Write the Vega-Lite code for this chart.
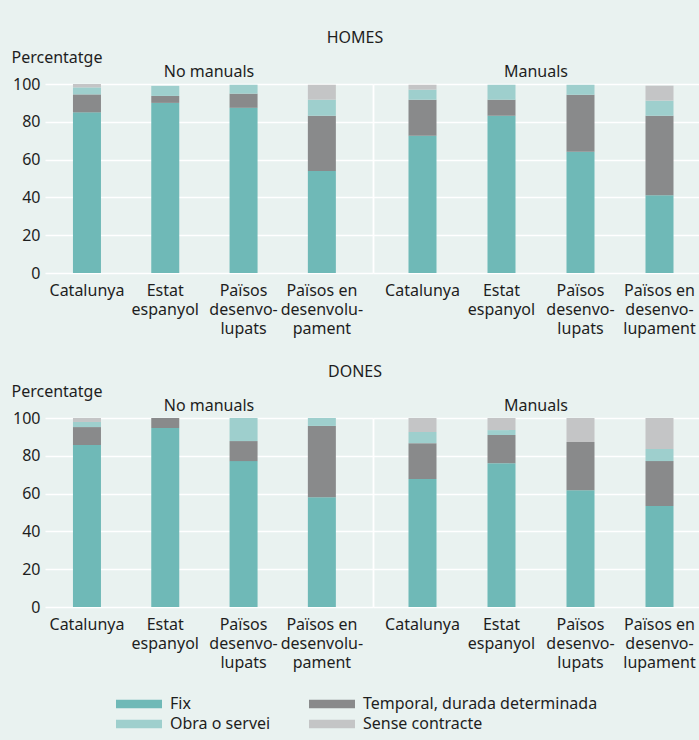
{
  "$schema": "https://vega.github.io/schema/vega-lite/v6.json",
  "background": "#e9f2f0",
  "padding": {"left": 11, "top": 30, "right": 0, "bottom": 12},
  "data": {
    "values": [
      {"sexe": "HOMES", "grup": "No manuals", "zona": "Catalunya", "tipus": "Fix", "pct": 85.0},
      {"sexe": "HOMES", "grup": "No manuals", "zona": "Catalunya", "tipus": "Temporal, durada determinada", "pct": 9.5},
      {"sexe": "HOMES", "grup": "No manuals", "zona": "Catalunya", "tipus": "Obra o servei", "pct": 3.7},
      {"sexe": "HOMES", "grup": "No manuals", "zona": "Catalunya", "tipus": "Sense contracte", "pct": 1.8},
      {"sexe": "HOMES", "grup": "No manuals", "zona": "Estat espanyol", "tipus": "Fix", "pct": 90.0},
      {"sexe": "HOMES", "grup": "No manuals", "zona": "Estat espanyol", "tipus": "Temporal, durada determinada", "pct": 3.7},
      {"sexe": "HOMES", "grup": "No manuals", "zona": "Estat espanyol", "tipus": "Obra o servei", "pct": 5.3},
      {"sexe": "HOMES", "grup": "No manuals", "zona": "Països desenvolupats", "tipus": "Fix", "pct": 87.4},
      {"sexe": "HOMES", "grup": "No manuals", "zona": "Països desenvolupats", "tipus": "Temporal, durada determinada", "pct": 7.5},
      {"sexe": "HOMES", "grup": "No manuals", "zona": "Països desenvolupats", "tipus": "Obra o servei", "pct": 4.7},
      {"sexe": "HOMES", "grup": "No manuals", "zona": "Països en desenvolupament", "tipus": "Fix", "pct": 54.0},
      {"sexe": "HOMES", "grup": "No manuals", "zona": "Països en desenvolupament", "tipus": "Temporal, durada determinada", "pct": 29.2},
      {"sexe": "HOMES", "grup": "No manuals", "zona": "Països en desenvolupament", "tipus": "Obra o servei", "pct": 8.5},
      {"sexe": "HOMES", "grup": "No manuals", "zona": "Països en desenvolupament", "tipus": "Sense contracte", "pct": 7.9},
      {"sexe": "HOMES", "grup": "Manuals", "zona": "Catalunya", "tipus": "Fix", "pct": 72.6},
      {"sexe": "HOMES", "grup": "Manuals", "zona": "Catalunya", "tipus": "Temporal, durada determinada", "pct": 19.1},
      {"sexe": "HOMES", "grup": "Manuals", "zona": "Catalunya", "tipus": "Obra o servei", "pct": 5.3},
      {"sexe": "HOMES", "grup": "Manuals", "zona": "Catalunya", "tipus": "Sense contracte", "pct": 2.6},
      {"sexe": "HOMES", "grup": "Manuals", "zona": "Estat espanyol", "tipus": "Fix", "pct": 83.2},
      {"sexe": "HOMES", "grup": "Manuals", "zona": "Estat espanyol", "tipus": "Temporal, durada determinada", "pct": 8.5},
      {"sexe": "HOMES", "grup": "Manuals", "zona": "Estat espanyol", "tipus": "Obra o servei", "pct": 7.9},
      {"sexe": "HOMES", "grup": "Manuals", "zona": "Països desenvolupats", "tipus": "Fix", "pct": 64.1},
      {"sexe": "HOMES", "grup": "Manuals", "zona": "Països desenvolupats", "tipus": "Temporal, durada determinada", "pct": 30.2},
      {"sexe": "HOMES", "grup": "Manuals", "zona": "Països desenvolupats", "tipus": "Obra o servei", "pct": 5.3},
      {"sexe": "HOMES", "grup": "Manuals", "zona": "Països en desenvolupament", "tipus": "Fix", "pct": 41.2},
      {"sexe": "HOMES", "grup": "Manuals", "zona": "Països en desenvolupament", "tipus": "Temporal, durada determinada", "pct": 42.0},
      {"sexe": "HOMES", "grup": "Manuals", "zona": "Països en desenvolupament", "tipus": "Obra o servei", "pct": 8.0},
      {"sexe": "HOMES", "grup": "Manuals", "zona": "Països en desenvolupament", "tipus": "Sense contracte", "pct": 7.9},
      {"sexe": "DONES", "grup": "No manuals", "zona": "Catalunya", "tipus": "Fix", "pct": 85.7},
      {"sexe": "DONES", "grup": "No manuals", "zona": "Catalunya", "tipus": "Temporal, durada determinada", "pct": 9.5},
      {"sexe": "DONES", "grup": "No manuals", "zona": "Catalunya", "tipus": "Obra o servei", "pct": 2.7},
      {"sexe": "DONES", "grup": "No manuals", "zona": "Catalunya", "tipus": "Sense contracte", "pct": 2.1},
      {"sexe": "DONES", "grup": "No manuals", "zona": "Estat espanyol", "tipus": "Fix", "pct": 94.7},
      {"sexe": "DONES", "grup": "No manuals", "zona": "Estat espanyol", "tipus": "Temporal, durada determinada", "pct": 5.3},
      {"sexe": "DONES", "grup": "No manuals", "zona": "Països desenvolupats", "tipus": "Fix", "pct": 77.2},
      {"sexe": "DONES", "grup": "No manuals", "zona": "Països desenvolupats", "tipus": "Temporal, durada determinada", "pct": 10.6},
      {"sexe": "DONES", "grup": "No manuals", "zona": "Països desenvolupats", "tipus": "Obra o servei", "pct": 12.2},
      {"sexe": "DONES", "grup": "No manuals", "zona": "Països en desenvolupament", "tipus": "Fix", "pct": 58.1},
      {"sexe": "DONES", "grup": "No manuals", "zona": "Països en desenvolupament", "tipus": "Temporal, durada determinada", "pct": 37.7},
      {"sexe": "DONES", "grup": "No manuals", "zona": "Països en desenvolupament", "tipus": "Obra o servei", "pct": 4.2},
      {"sexe": "DONES", "grup": "Manuals", "zona": "Catalunya", "tipus": "Fix", "pct": 67.7},
      {"sexe": "DONES", "grup": "Manuals", "zona": "Catalunya", "tipus": "Temporal, durada determinada", "pct": 19.0},
      {"sexe": "DONES", "grup": "Manuals", "zona": "Catalunya", "tipus": "Obra o servei", "pct": 5.9},
      {"sexe": "DONES", "grup": "Manuals", "zona": "Catalunya", "tipus": "Sense contracte", "pct": 7.4},
      {"sexe": "DONES", "grup": "Manuals", "zona": "Estat espanyol", "tipus": "Fix", "pct": 76.1},
      {"sexe": "DONES", "grup": "Manuals", "zona": "Estat espanyol", "tipus": "Temporal, durada determinada", "pct": 14.9},
      {"sexe": "DONES", "grup": "Manuals", "zona": "Estat espanyol", "tipus": "Obra o servei", "pct": 2.6},
      {"sexe": "DONES", "grup": "Manuals", "zona": "Estat espanyol", "tipus": "Sense contracte", "pct": 6.4},
      {"sexe": "DONES", "grup": "Manuals", "zona": "Països desenvolupats", "tipus": "Fix", "pct": 61.8},
      {"sexe": "DONES", "grup": "Manuals", "zona": "Països desenvolupats", "tipus": "Temporal, durada determinada", "pct": 25.5},
      {"sexe": "DONES", "grup": "Manuals", "zona": "Països desenvolupats", "tipus": "Sense contracte", "pct": 12.7},
      {"sexe": "DONES", "grup": "Manuals", "zona": "Països en desenvolupament", "tipus": "Fix", "pct": 53.4},
      {"sexe": "DONES", "grup": "Manuals", "zona": "Països en desenvolupament", "tipus": "Temporal, durada determinada", "pct": 23.8},
      {"sexe": "DONES", "grup": "Manuals", "zona": "Països en desenvolupament", "tipus": "Obra o servei", "pct": 6.4},
      {"sexe": "DONES", "grup": "Manuals", "zona": "Països en desenvolupament", "tipus": "Sense contracte", "pct": 16.4}
    ]
  },
  "transform": [
    {"calculate": "indexof(['Fix', 'Temporal, durada determinada', 'Obra o servei', 'Sense contracte'], datum.tipus)", "as": "ordre"}
  ],
  "config": {
    "font": "Noto Sans",
    "view": {"stroke": null},
    "concat": {"spacing": 0},
    "axis": {
      "labelFont": "Noto Sans", "labelFontSize": 16, "labelColor": "#1e1e1e",
      "titleFont": "Noto Sans", "titleFontSize": 16, "titleFontWeight": "normal", "titleColor": "#1e1e1e",
      "gridColor": "#ffffff", "gridWidth": 1.3, "gridOpacity": 1
    },
    "title": {"font": "Noto Sans", "fontSize": 16, "fontWeight": "normal", "color": "#1e1e1e"},
    "legend": {"labelFont": "Noto Sans", "labelFontSize": 16, "labelColor": "#1e1e1e"}
  },
  "vconcat": [
    {
      "title": {"text": "HOMES", "anchor": "middle", "offset": 3},
      "spacing": 0,
      "hconcat": [
        {
          "width": 328, "height": 189,
          "title": {"text": "No manuals", "offset": -44, "baseline": "alphabetic"},
          "transform": [{"filter": "datum.sexe == 'HOMES' && datum.grup == 'No manuals'"}],
          "mark": {"type": "bar", "width": 28},
          "encoding": {
            "x": {"field": "zona", "type": "nominal", "title": null,
              "sort": ["Catalunya", "Estat espanyol", "Països desenvolupats", "Països en desenvolupament"],
              "scale": {"paddingInner": 0, "paddingOuter": 0.0945, "align": 0.19},
              "axis": {"labelAngle": 0, "ticks": false, "domain": false, "labelPadding": 9.5, "labelLineHeight": 19, "labelOverlap": false, "labelLimit": 200,
                "labelExpr": "datum.label == 'Estat espanyol' ? ['Estat', 'espanyol'] : datum.label == 'Països desenvolupats' ? ['Països', 'desenvo-', 'lupats'] : datum.label == 'Països en desenvolupament' ? ['Països en', 'desenvolu-', 'pament'] : datum.label"}},
            "y": {"field": "pct", "type": "quantitative", "stack": "zero", "scale": {"domain": [0, 100]},
              "axis": {"values": [0, 20, 40, 60, 80, 100], "title": "Percentatge", "titleAngle": 0, "titleAlign": "left", "titleBaseline": "alphabetic", "titleX": -34, "titleY": -22, "domain": false, "ticks": false, "labelPadding": 5}},
            "order": {"field": "ordre", "type": "quantitative", "sort": "ascending"},
            "color": {"field": "tipus", "type": "nominal",
              "sort": ["Fix", "Temporal, durada determinada", "Obra o servei", "Sense contracte"],
              "scale": {"domain": ["Fix", "Temporal, durada determinada", "Obra o servei", "Sense contracte"], "range": ["#6fb9b7", "#898a8b", "#9ecfcd", "#c4c5c6"]},
              "legend": {"title": null, "orient": "none", "direction": "horizontal", "legendX": 84, "legendY": 610, "columns": 2, "columnPadding": 38, "rowPadding": 2, "padding": 0, "labelLimit": 320,
                "symbolType": "M-2.3,-0.425H2.3V0.425H-2.3Z", "symbolSize": 400, "symbolStrokeWidth": 0, "labelOffset": 21, "labelFontSize": 16}}
          }
        },
        {
          "width": 326, "height": 189,
          "title": {"text": "Manuals", "offset": -9, "baseline": "alphabetic"},
          "transform": [{"filter": "datum.sexe == 'HOMES' && datum.grup == 'Manuals'"}],
          "mark": {"type": "bar", "width": 28},
          "encoding": {
            "x": {"field": "zona", "type": "nominal", "title": null,
              "sort": ["Catalunya", "Estat espanyol", "Països desenvolupats", "Països en desenvolupament"],
              "scale": {"paddingInner": 0, "paddingOuter": 0.0633, "align": 1},
              "axis": {"labelAngle": 0, "ticks": false, "domain": false, "labelPadding": 9.5, "labelLineHeight": 19, "labelOverlap": false, "labelLimit": 200,
                "labelExpr": "datum.label == 'Estat espanyol' ? ['Estat', 'espanyol'] : datum.label == 'Països desenvolupats' ? ['Països', 'desenvo-', 'lupats'] : datum.label == 'Països en desenvolupament' ? ['Països en', 'desenvo-', 'lupament'] : datum.label"}},
            "y": {"field": "pct", "type": "quantitative", "stack": "zero", "scale": {"domain": [0, 100]},
              "axis": {"values": [0, 20, 40, 60, 80, 100], "title": null, "labels": false, "ticks": false, "domain": true, "domainColor": "#ffffff", "domainWidth": 1.8}},
            "order": {"field": "ordre", "type": "quantitative", "sort": "ascending"},
            "color": {"field": "tipus", "type": "nominal",
              "sort": ["Fix", "Temporal, durada determinada", "Obra o servei", "Sense contracte"],
              "scale": {"domain": ["Fix", "Temporal, durada determinada", "Obra o servei", "Sense contracte"], "range": ["#6fb9b7", "#898a8b", "#9ecfcd", "#c4c5c6"]}}
          }
        }
      ]
    },
    {
      "title": {"text": "DONES", "anchor": "middle", "offset": 3},
      "spacing": 0,
      "hconcat": [
        {
          "width": 328, "height": 189,
          "title": {"text": "No manuals", "offset": -44, "baseline": "alphabetic"},
          "transform": [{"filter": "datum.sexe == 'DONES' && datum.grup == 'No manuals'"}],
          "mark": {"type": "bar", "width": 28},
          "encoding": {
            "x": {"field": "zona", "type": "nominal", "title": null,
              "sort": ["Catalunya", "Estat espanyol", "Països desenvolupats", "Països en desenvolupament"],
              "scale": {"paddingInner": 0, "paddingOuter": 0.0945, "align": 0.19},
              "axis": {"labelAngle": 0, "ticks": false, "domain": false, "labelPadding": 9.5, "labelLineHeight": 19, "labelOverlap": false, "labelLimit": 200,
                "labelExpr": "datum.label == 'Estat espanyol' ? ['Estat', 'espanyol'] : datum.label == 'Països desenvolupats' ? ['Països', 'desenvo-', 'lupats'] : datum.label == 'Països en desenvolupament' ? ['Països en', 'desenvolu-', 'pament'] : datum.label"}},
            "y": {"field": "pct", "type": "quantitative", "stack": "zero", "scale": {"domain": [0, 100]},
              "axis": {"values": [0, 20, 40, 60, 80, 100], "title": "Percentatge", "titleAngle": 0, "titleAlign": "left", "titleBaseline": "alphabetic", "titleX": -34, "titleY": -22, "domain": false, "ticks": false, "labelPadding": 5}},
            "order": {"field": "ordre", "type": "quantitative", "sort": "ascending"},
            "color": {"field": "tipus", "type": "nominal",
              "sort": ["Fix", "Temporal, durada determinada", "Obra o servei", "Sense contracte"],
              "scale": {"domain": ["Fix", "Temporal, durada determinada", "Obra o servei", "Sense contracte"], "range": ["#6fb9b7", "#898a8b", "#9ecfcd", "#c4c5c6"]}}
          }
        },
        {
          "width": 326, "height": 189,
          "title": {"text": "Manuals", "offset": -9, "baseline": "alphabetic"},
          "transform": [{"filter": "datum.sexe == 'DONES' && datum.grup == 'Manuals'"}],
          "mark": {"type": "bar", "width": 28},
          "encoding": {
            "x": {"field": "zona", "type": "nominal", "title": null,
              "sort": ["Catalunya", "Estat espanyol", "Països desenvolupats", "Països en desenvolupament"],
              "scale": {"paddingInner": 0, "paddingOuter": 0.0633, "align": 1},
              "axis": {"labelAngle": 0, "ticks": false, "domain": false, "labelPadding": 9.5, "labelLineHeight": 19, "labelOverlap": false, "labelLimit": 200,
                "labelExpr": "datum.label == 'Estat espanyol' ? ['Estat', 'espanyol'] : datum.label == 'Països desenvolupats' ? ['Països', 'desenvo-', 'lupats'] : datum.label == 'Països en desenvolupament' ? ['Països en', 'desenvo-', 'lupament'] : datum.label"}},
            "y": {"field": "pct", "type": "quantitative", "stack": "zero", "scale": {"domain": [0, 100]},
              "axis": {"values": [0, 20, 40, 60, 80, 100], "title": null, "labels": false, "ticks": false, "domain": true, "domainColor": "#ffffff", "domainWidth": 1.8}},
            "order": {"field": "ordre", "type": "quantitative", "sort": "ascending"},
            "color": {"field": "tipus", "type": "nominal",
              "sort": ["Fix", "Temporal, durada determinada", "Obra o servei", "Sense contracte"],
              "scale": {"domain": ["Fix", "Temporal, durada determinada", "Obra o servei", "Sense contracte"], "range": ["#6fb9b7", "#898a8b", "#9ecfcd", "#c4c5c6"]}}
          }
        }
      ]
    }
  ],
  "spacing": 27
}
